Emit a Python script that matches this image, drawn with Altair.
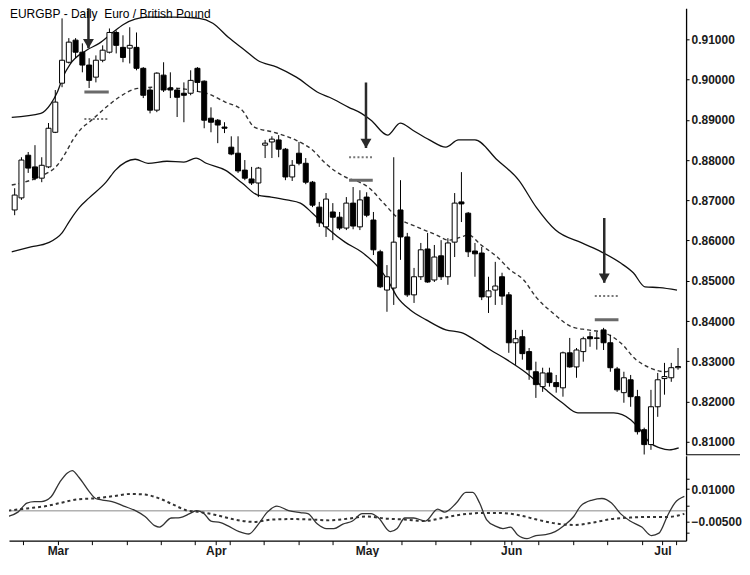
import altair as alt
import pandas as pd

TITLE = "EURGBP - Daily\u00a0 Euro / British Pound"

# ---- daily candles (index 0 = 18 Feb 2010 ... 98 = 6 Jul 2010) ----
OPEN = [0.8676, 0.8706, 0.8812, 0.8783, 0.8755, 0.8783, 0.8869, 0.8991, 0.9043, 0.9098,
        0.9068, 0.9036, 0.9006, 0.9048, 0.9068, 0.9117, 0.9080, 0.9078, 0.9080, 0.9028,
        0.8974, 0.8924, 0.9011, 0.8979, 0.8974, 0.8966, 0.8966, 0.9028, 0.8996, 0.8904,
        0.8899, 0.8882, 0.8832, 0.8817, 0.8775, 0.8753, 0.8743, 0.8837, 0.8845, 0.8850,
        0.8827, 0.8758, 0.8817, 0.8792, 0.8745, 0.8683, 0.8634, 0.8671, 0.8658, 0.8631,
        0.8693, 0.8634, 0.8708, 0.8651, 0.8572, 0.8477, 0.8482, 0.8676, 0.8609, 0.8465,
        0.8510, 0.8579, 0.8502, 0.8562, 0.8510, 0.8596, 0.8696, 0.8668, 0.8574, 0.8569,
        0.8460, 0.8477, 0.8510, 0.8465, 0.8346, 0.8361, 0.8324, 0.8274, 0.8237, 0.8271,
        0.8247, 0.8234, 0.8321, 0.8286, 0.8324, 0.8361, 0.8358, 0.8378, 0.8346, 0.8281,
        0.8222, 0.8254, 0.8212, 0.8130, 0.8093, 0.8187, 0.8257, 0.8259, 0.8284]
HIGH = [0.8730, 0.8807, 0.8820, 0.8837, 0.8807, 0.8892, 0.8974, 0.9152, 0.9103, 0.9103,
        0.9090, 0.9053, 0.9060, 0.9085, 0.9127, 0.9122, 0.9110, 0.9130, 0.9117, 0.9031,
        0.8979, 0.9018, 0.9043, 0.9018, 0.8979, 0.8993, 0.9023, 0.9031, 0.8998, 0.8931,
        0.8902, 0.8894, 0.8859, 0.8859, 0.8800, 0.8783, 0.8783, 0.8850, 0.8859, 0.8862,
        0.8830, 0.8800, 0.8845, 0.8805, 0.8748, 0.8696, 0.8718, 0.8693, 0.8671, 0.8708,
        0.8733, 0.8725, 0.8720, 0.8671, 0.8577, 0.8539, 0.8807, 0.8750, 0.8619, 0.8532,
        0.8594, 0.8619, 0.8589, 0.8601, 0.8606, 0.8718, 0.8770, 0.8671, 0.8594, 0.8584,
        0.8510, 0.8547, 0.8520, 0.8472, 0.8378, 0.8378, 0.8333, 0.8299, 0.8284, 0.8284,
        0.8266, 0.8324, 0.8358, 0.8333, 0.8361, 0.8373, 0.8373, 0.8383, 0.8366, 0.8286,
        0.8274, 0.8266, 0.8229, 0.8135, 0.8229, 0.8271, 0.8296, 0.8296, 0.8333]
LOW = [0.8663, 0.8701, 0.8768, 0.8750, 0.8745, 0.8780, 0.8867, 0.8981, 0.9040, 0.9053,
       0.9018, 0.8979, 0.8993, 0.9043, 0.9065, 0.9065, 0.9043, 0.9040, 0.9023, 0.8954,
       0.8916, 0.8919, 0.8969, 0.8954, 0.8907, 0.8894, 0.8961, 0.8969, 0.8879, 0.8869,
       0.8842, 0.8867, 0.8812, 0.8768, 0.8750, 0.8738, 0.8708, 0.8805, 0.8805, 0.8807,
       0.8750, 0.8748, 0.8787, 0.8740, 0.8683, 0.8634, 0.8609, 0.8601, 0.8626, 0.8626,
       0.8628, 0.8626, 0.8658, 0.8564, 0.8482, 0.8423, 0.8440, 0.8552, 0.8460, 0.8445,
       0.8502, 0.8495, 0.8497, 0.8502, 0.8490, 0.8559, 0.8646, 0.8559, 0.8510, 0.8452,
       0.8420, 0.8440, 0.8440, 0.8321, 0.8291, 0.8304, 0.8254, 0.8209, 0.8224, 0.8237,
       0.8222, 0.8212, 0.8284, 0.8259, 0.8299, 0.8336, 0.8329, 0.8328, 0.8274, 0.8224,
       0.8197, 0.8187, 0.8118, 0.8068, 0.8080, 0.8162, 0.8217, 0.8249, 0.8279]
CLOSE = [0.8713, 0.8800, 0.8780, 0.8755, 0.8787, 0.8879, 0.8944, 0.9048, 0.9093, 0.9068,
         0.9036, 0.8998, 0.9048, 0.9073, 0.9117, 0.9085, 0.9055, 0.9085, 0.9028, 0.8961,
         0.8924, 0.9016, 0.8974, 0.8974, 0.8956, 0.8961, 0.8998, 0.8993, 0.8899, 0.8894,
         0.8887, 0.8879, 0.8815, 0.8773, 0.8755, 0.8743, 0.8780, 0.8842, 0.8852, 0.8827,
         0.8758, 0.8787, 0.8792, 0.8745, 0.8688, 0.8644, 0.8703, 0.8658, 0.8631, 0.8693,
         0.8636, 0.8701, 0.8663, 0.8577, 0.8485, 0.8510, 0.8596, 0.8609, 0.8465, 0.8510,
         0.8577, 0.8497, 0.8559, 0.8510, 0.8594, 0.8693, 0.8691, 0.8572, 0.8567, 0.8460,
         0.8475, 0.8487, 0.8462, 0.8346, 0.8356, 0.8319, 0.8279, 0.8242, 0.8271, 0.8247,
         0.8237, 0.8321, 0.8286, 0.8328, 0.8356, 0.8356, 0.8357, 0.8346, 0.8284, 0.8229,
         0.8259, 0.8212, 0.8125, 0.8093, 0.8187, 0.8254, 0.8262, 0.8284, 0.8287]

# ---- bands ----
UB_I = [-0.43, 3.87, 5.31, 6.31, 7.17, 8.18, 10.62, 12.48, 14.35, 16.07, 17.79, 19.66, 23.53,
        27.26, 29.27, 31.56, 34.0, 35.87, 38.74, 41.61, 45.05, 46.49, 49.35, 51.22, 52.65,
        55.09, 56.96, 58.82, 61.26, 63.7, 65.57, 68.0, 71.3, 74.46, 77.04, 79.91, 83.79,
        86.66, 89.53, 91.39, 93.11, 95.27, 97.85]
UB_P = [0.8906, 0.8916, 0.8939, 0.8969, 0.9008, 0.9038, 0.9073, 0.9090, 0.9115, 0.9137, 0.9150,
        0.9155, 0.9155, 0.9152, 0.9140, 0.9105, 0.9073, 0.9048, 0.9031, 0.9006, 0.8966, 0.8956,
        0.8931, 0.8916, 0.8899, 0.8862, 0.8892, 0.8874, 0.8850, 0.8832, 0.8850, 0.8850, 0.8800,
        0.8750, 0.8683, 0.8626, 0.8594, 0.8572, 0.8544, 0.8520, 0.8485, 0.8483, 0.8477]
LB_I = [-0.43, 2.4, 4.9, 7.0, 8.2, 9.6, 11.0, 13.5, 14.9, 17.8, 19.7, 22.5, 25.0, 26.8, 28.3,
        31.1, 33.6, 35.9, 37.9, 40.2, 42.2, 44.0, 46.5, 48.8, 51.2, 53.7, 55.1, 56.5, 58.4,
        60.8, 63.7, 66.0, 68.0, 70.3, 72.7, 75.6, 78.5, 80.9, 83.2, 86.1, 88.5, 91.0, 92.4,
        93.8, 95.3, 96.7, 98.1]
LB_P = [0.8572, 0.8584, 0.8594, 0.8619, 0.8651, 0.8683, 0.8706, 0.8745, 0.8775, 0.8802, 0.8792,
        0.8797, 0.8795, 0.8805, 0.8792, 0.8775, 0.8743, 0.8713, 0.8708, 0.8701, 0.8693, 0.8668,
        0.8626, 0.8596, 0.8572, 0.8534, 0.8502, 0.8460, 0.8428, 0.8403, 0.8378, 0.8371, 0.8353,
        0.8328, 0.8304, 0.8271, 0.8229, 0.8197, 0.8172, 0.8172, 0.8172, 0.8155, 0.8130, 0.8098,
        0.8085, 0.8080, 0.8085]
MA_I = [-0.43, 2.4, 4.3, 6.3, 7.5, 8.6, 9.9, 11.0, 13.5, 15.4, 18.2, 21.1, 28.3, 31.1, 33.6,
        35.4, 38.3, 41.6, 44.0, 45.9, 48.8, 51.2, 52.2, 54.5, 56.5, 59.4, 62.3, 64.1, 66.0,
        67.0, 68.9, 71.3, 73.2, 75.2, 77.0, 79.5, 82.4, 84.7, 87.1, 89.5, 91.8, 93.8, 96.1, 97.1]
MA_P = [0.8738, 0.8750, 0.8763, 0.8787, 0.8817, 0.8850, 0.8879, 0.8894, 0.8931, 0.8956, 0.8978,
        0.8981, 0.8966, 0.8944, 0.8924, 0.8882, 0.8869, 0.8849, 0.8825, 0.8792, 0.8758, 0.8743,
        0.8733, 0.8693, 0.8658, 0.8634, 0.8614, 0.8601, 0.8609, 0.8614, 0.8589, 0.8559, 0.8527,
        0.8502, 0.8460, 0.8420, 0.8385, 0.8378, 0.8371, 0.8346, 0.8304, 0.8284, 0.8274, 0.8279]

# ---- signal markers ----
ARROW_I = [10.9, 51.9, 87.1]
ARROW_TOP = [0.9184, 0.8993, 0.8656]
ARROW_TIP = [0.9078, 0.8830, 0.8495]
MARK_FROM = [10.3, 49.4, 85.7]
MARK_TO = [13.9, 52.9, 89.2]
BAR_P = [0.8969, 0.8750, 0.8403]
DOT_P = [0.8902, 0.8807, 0.8462]

# ---- oscillator panel ----
OSC_I = [-0.2, 1.2, 2.5, 3.6, 4.6, 6.0, 7.3, 8.4, 9.1, 10.1, 11.5, 12.5, 13.5, 14.9, 16.6, 18.3,
         19.7, 21.1, 21.8, 23.5, 24.8, 26.2, 27.2, 28.3, 29.3, 30.7, 31.7, 33.4, 34.8, 36.2,
         37.5, 38.9, 40.6, 42.3, 43.4, 44.8, 46.1, 47.2, 48.5, 49.9, 51.3, 52.6, 53.7, 55.4,
         56.4, 57.5, 58.8, 60.5, 62.3, 63.3, 65.0, 66.4, 67.4, 68.4, 69.4, 70.8, 71.8, 72.9,
         73.9, 75.3, 76.6, 78.0, 79.4, 80.7, 82.1, 83.1, 84.8, 86.2, 87.6, 88.9, 90.3, 92.0,
         93.4, 94.5, 95.8, 96.8, 98.2]
OSC_V = [-0.0026, -0.0006, 0.0036, 0.0043, 0.0043, 0.0064, 0.0133, 0.0175, 0.0186, 0.0154,
         0.0092, 0.0057, 0.0050, 0.0043, 0.0022, 0.0001, -0.0026, -0.0068, -0.0075, -0.0033,
         -0.0031, -0.0013, 0.0001, -0.0013, -0.0047, -0.0054, -0.0068, -0.0096, -0.0107, -0.0061,
         -0.0006, 0.0022, 0.0001, -0.0008, -0.0013, -0.0061, -0.0082, -0.0082, -0.0061, -0.0047,
         -0.0013, -0.0013, -0.0033, -0.0096, -0.0082, -0.0033, -0.0033, -0.0047, 0.0008, -0.0006,
         0.0036, 0.0085, 0.0085, 0.0036, -0.0040, -0.0072, -0.0082, -0.0075, -0.0110, -0.0128,
         -0.0114, -0.0110, -0.0096, -0.0068, -0.0026, 0.0022, 0.0050, 0.0057, 0.0036, -0.0013,
         -0.0047, -0.0075, -0.0114, -0.0103, -0.0019, 0.0036, 0.0067]
SIG_I = [-0.2, 2.5, 5.3, 7.3, 10.1, 12.1, 14.9, 17.6, 19.7, 21.8, 23.8, 25.9, 27.9, 30.0, 32.7,
         35.5, 38.3, 41.0, 43.8, 46.5, 49.3, 52.0, 54.8, 57.5, 60.3, 63.0, 65.8, 68.5, 71.3,
         74.0, 76.7, 79.4, 82.2, 84.9, 87.6, 90.4, 93.1, 95.8, 98.2]
SIG_V = [0.0001, 0.0011, 0.0022, 0.0036, 0.0054, 0.0057, 0.0067, 0.0078, 0.0075, 0.0057, 0.0029,
         0.0001, -0.0006, -0.0019, -0.0040, -0.0051, -0.0040, -0.0038, -0.0040, -0.0044, -0.0036,
         -0.0026, -0.0036, -0.0040, -0.0047, -0.0033, -0.0017, -0.0010, -0.0010, -0.0019, -0.0040,
         -0.0058, -0.0065, -0.0054, -0.0038, -0.0031, -0.0028, -0.0028, -0.0014]

# ---- axes ----
MONTH_IDX = [7, 30, 52, 73, 95]
MONTH_NAMES = ["Mar", "Apr", "May", "Jun", "Jul"]
WEEK_IDX = list(range(2, 99, 5))
PRICE_TICKS = [0.81, 0.82, 0.83, 0.84, 0.85, 0.86, 0.87, 0.88, 0.89, 0.90, 0.91]
OSC_TICKS = [0.015, 0.01, 0.0025, -0.005, -0.01]
OSC_LABELED = [0.01, -0.005]

W, H_TOP, H_BOT = 678, 447, 85
FONT = "Liberation Sans"

xs = alt.Scale(domain=[-0.1, 98.45], nice=False, zero=False)
ys = alt.Scale(domain=[0.80677, 0.91769], nice=False, zero=False)
os_ = alt.Scale(domain=[-0.01376, 0.02543], nice=False, zero=False)

yax = alt.Axis(orient="right", values=PRICE_TICKS, format=".5f", title=None, grid=False,
               tickSize=3, labelPadding=2, domainColor="black", domainWidth=1.3,
               tickColor="black", labelColor="#1a1a1a", labelFontSize=12,
               labelFontWeight="bold", labelFont=FONT, labelOverlap=False)

month_expr = " : ".join(f"datum.value == {m} ? '{n}'" for m, n in zip(MONTH_IDX, MONTH_NAMES)) + " : ''"
xax = alt.Axis(values=sorted(set(WEEK_IDX + MONTH_IDX)), labelExpr=month_expr, title=None,
               grid=False, tickSize=4, labelPadding=1, labelFontSize=12, labelFont=FONT,
               labelFontWeight="bold", labelColor="#1a1a1a", domainColor="black",
               domainWidth=1.3, tickColor="black", labelOverlap=False, labelFlush=False)

osc_parts = []
for v in OSC_LABELED:
    txt = format(v, ".5f").replace("-", "\u2212")
    osc_parts.append(f"abs(datum.value - ({v})) < 1e-9 ? '{txt}'")
osc_expr = " : ".join(osc_parts) + " : ''"
oax = alt.Axis(orient="right", values=OSC_TICKS, labelExpr=osc_expr, title=None, grid=False,
               tickSize=3, labelPadding=2, domainColor="black", domainWidth=1.3,
               tickColor="black", labelColor="#1a1a1a", labelFontSize=12,
               labelFontWeight="bold", labelFont=FONT, labelOverlap=False)


def X(f="i"):
    return alt.X(f"{f}:Q", scale=xs, axis=None)


def Y(f="p"):
    return alt.Y(f"{f}:Q", scale=ys, axis=yax)


candles = pd.DataFrame({"i": list(range(len(OPEN))), "open": OPEN, "high": HIGH,
                        "low": LOW, "close": CLOSE})
candles["dir"] = ["up" if c >= o else "down" for o, c in zip(OPEN, CLOSE)]

ub = alt.Chart(pd.DataFrame({"i": UB_I, "p": UB_P})).mark_line(
    color="#111", strokeWidth=1.3, interpolate="monotone", clip=True).encode(x=X(), y=Y())
lb = alt.Chart(pd.DataFrame({"i": LB_I, "p": LB_P})).mark_line(
    color="#111", strokeWidth=1.3, interpolate="monotone", clip=True).encode(x=X(), y=Y())
ma = alt.Chart(pd.DataFrame({"i": MA_I, "p": MA_P})).mark_line(
    color="#333", strokeWidth=1.4, strokeDash=[4, 3], interpolate="monotone",
    clip=True).encode(x=X(), y=Y())

wicks = alt.Chart(candles).mark_rule(color="black", strokeWidth=1, clip=True).encode(
    x=X(), y=Y("low"), y2="high:Q")
bodies = alt.Chart(candles).mark_bar(size=5, stroke="black", strokeWidth=1, clip=True).encode(
    x=X(), y=Y("open"), y2="close:Q",
    fill=alt.Fill("dir:N", scale=alt.Scale(domain=["up", "down"], range=["white", "black"]),
                  legend=None))

marks = pd.DataFrame({"i": MARK_FROM, "i2": MARK_TO, "bar": BAR_P, "dot": DOT_P})
gbars = alt.Chart(marks).mark_rule(color="#6a6a6a", strokeWidth=3, clip=True).encode(
    x=X(), x2="i2:Q", y=Y("bar"))
dots = alt.Chart(marks).mark_rule(color="#777", strokeWidth=2, strokeDash=[2, 2.2],
                                   clip=True).encode(x=X(), x2="i2:Q", y=Y("dot"))

arrows = pd.DataFrame({"i": ARROW_I, "top": ARROW_TOP, "tip": ARROW_TIP})
shafts = alt.Chart(arrows).mark_rule(color="#2a2a2a", strokeWidth=2.5, clip=True).encode(
    x=X(), y=Y("top"), y2="tip:Q")
heads = alt.Chart(arrows).mark_point(shape="triangle-down", filled=True, size=120,
                                     color="#2a2a2a", opacity=1, yOffset=-4.5,
                                     clip=True).encode(x=X(), y=Y("tip"))

title = alt.Chart(pd.DataFrame({"t": [TITLE]})).mark_text(
    align="left", baseline="top", fontSize=12, font=FONT, color="black").encode(
    x=alt.value(1), y=alt.value(1), text="t:N")

sep = alt.Chart(pd.DataFrame({"a": [0]})).mark_rule(color="black", strokeWidth=1.2,
                                                   clip=False).encode(
    x=alt.value(W), x2=alt.value(W + 54), y=alt.value(H_TOP))

upper = alt.layer(ub, lb, ma, wicks, bodies, gbars, dots, shafts, heads, title, sep).properties(
    width=W, height=H_TOP)

zero = alt.Chart(pd.DataFrame({"v": [0.0]})).mark_rule(color="#8a8a8a", strokeWidth=1).encode(
    y=alt.Y("v:Q", scale=os_, axis=oax))
osc = alt.Chart(pd.DataFrame({"i": OSC_I, "v": OSC_V})).mark_line(
    color="#333", strokeWidth=1.3, interpolate="monotone", clip=True).encode(
    x=alt.X("i:Q", scale=xs, axis=xax), y=alt.Y("v:Q", scale=os_, axis=oax))
sig = alt.Chart(pd.DataFrame({"i": SIG_I, "v": SIG_V})).mark_line(
    color="#333", strokeWidth=2, strokeDash=[3, 3], interpolate="monotone", clip=True).encode(
    x=alt.X("i:Q", scale=xs, axis=xax), y=alt.Y("v:Q", scale=os_, axis=oax))

lower = alt.layer(zero, osc, sig).properties(width=W, height=H_BOT)

chart = alt.vconcat(upper, lower, spacing=0, padding=0).configure_view(stroke=None)
chart.save("out.html", embed_options={"renderer": "svg", "actions": False})
